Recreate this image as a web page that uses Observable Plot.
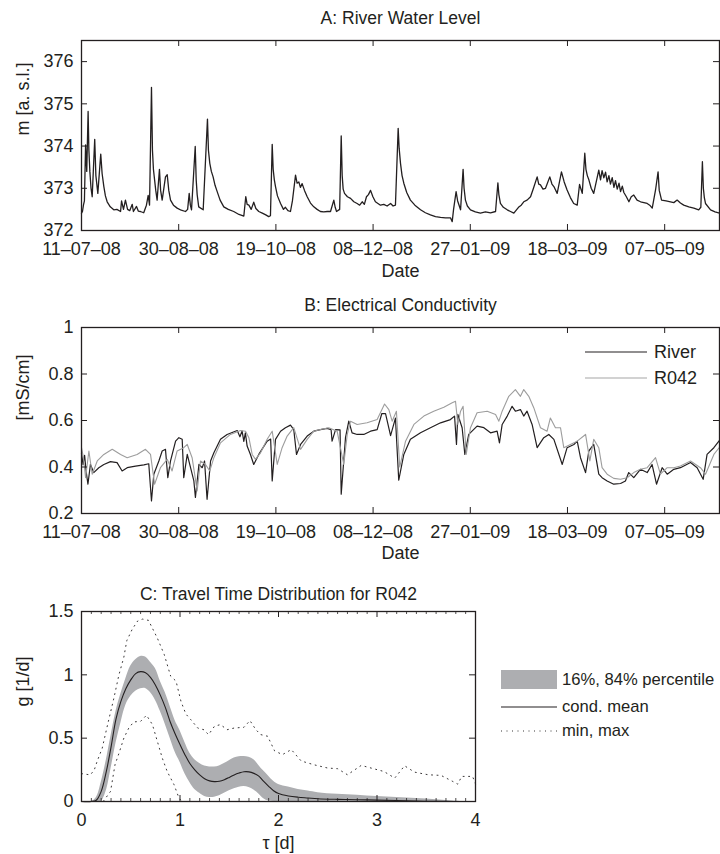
<!DOCTYPE html>
<html><head><meta charset="utf-8">
<script src="https://cdn.jsdelivr.net/npm/d3@7"></script>
<script src="https://cdn.jsdelivr.net/npm/@observablehq/plot@0.6"></script>
<style>
body{margin:0;background:#fff;}
#page{position:relative;width:720px;height:854px;font-family:"Liberation Sans",Arial,sans-serif;color:#231f20;}
#page svg{display:block;}
.lg{position:absolute;white-space:nowrap;line-height:1;transform:translateY(-50%);}
</style></head><body><div id="page"></div>
<script>
// ---------- data ----------
const startDateUTC = Date.UTC(2008, 6, 11);   // 11-07-08
const endDay = 328.2;                           // days after start at right edge
const dateTickDays = [0, 50, 100, 150, 200, 250, 300];
const levelTicks = [372, 373, 374, 375, 376];
const ecTicks = [0.2, 0.4, 0.6, 0.8, 1];
const gTicks = [0, 0.5, 1, 1.5];
const tauTicks = [0, 1, 2, 3, 4];

// [day after 11-07-08, m a.s.l.]
const riverLevel = [[0,372.41],[0.5,372.45],[1.0,372.6],[1.5,372.7],[2.1,374.03],[2.7,373.4],[3.4,374.82],[3.8,373.9],[4.3,373.4],[4.9,373.0],[5.5,372.8],[6.8,374.16],[7.4,373.3],[8.4,372.88],[9.9,373.81],[10.6,373.35],[11.5,373.04],[12.3,372.82],[13.2,372.68],[14.8,372.56],[16.6,372.49],[18.2,372.5],[20.1,372.45],[20.6,372.7],[21.6,372.5],[22.6,372.72],[23.7,372.5],[24.8,372.47],[26.1,372.62],[26.7,372.45],[28.3,372.57],[29.2,372.46],[30.3,372.45],[32.0,372.42],[33.4,372.6],[34.3,372.83],[35.0,372.6],[36.0,375.39],[36.5,373.9],[37.0,373.45],[37.6,373.2],[38.2,372.95],[38.9,372.72],[40.1,373.45],[40.7,372.95],[41.5,372.72],[43.2,373.27],[44.1,373.32],[44.9,372.95],[45.8,372.72],[47.3,372.6],[49.2,372.53],[51.3,372.48],[53.5,372.45],[54.6,372.5],[55.4,372.88],[56.0,372.6],[56.6,372.49],[58.5,373.99],[59.0,373.2],[59.5,372.85],[60.3,372.56],[62.6,372.49],[64.8,374.64],[65.3,373.9],[66.0,373.59],[66.8,373.4],[67.7,373.27],[68.7,373.07],[69.8,372.92],[71.3,372.72],[73.2,372.56],[75.5,372.5],[78.3,372.45],[81.0,372.38],[83.5,372.34],[84.5,372.8],[85.2,372.62],[86.1,372.6],[87.3,372.5],[88.6,372.67],[89.7,372.52],[91.2,372.45],[93.0,372.41],[94.8,372.37],[96.3,372.33],[97.2,372.35],[98.1,374.04],[98.6,373.45],[99.2,373.2],[99.8,373.04],[100.8,372.82],[102.4,372.64],[103.9,372.5],[104.9,372.55],[106.2,372.47],[107.5,372.45],[108.5,372.7],[110.1,373.31],[110.9,373.12],[111.8,373.15],[112.6,373.02],[113.5,373.11],[114.7,372.95],[116.1,372.8],[117.8,372.65],[119.5,372.56],[121.2,372.5],[122.9,372.45],[124.6,372.44],[126.4,372.45],[128.1,372.45],[129.8,372.72],[130.5,372.55],[131.2,372.45],[132.8,372.5],[133.6,374.24],[134.1,373.3],[134.6,372.98],[135.3,372.88],[136.8,372.8],[138.4,372.76],[140.1,372.68],[141.8,372.64],[143.1,372.6],[144.4,372.68],[145.5,372.62],[146.6,372.8],[147.6,372.85],[148.7,372.95],[149.9,372.8],[151.2,372.68],[152.5,372.64],[153.8,372.6],[155.5,372.62],[157.2,372.58],[159.0,372.64],[160.3,372.58],[161.5,372.6],[162.9,374.42],[163.4,373.95],[164.1,373.59],[164.9,373.3],[165.8,373.12],[167.3,372.9],[169.2,372.72],[171.5,372.6],[174.4,372.49],[176.9,372.42],[179.5,372.37],[182.1,372.33],[184.7,372.31],[187.2,372.3],[189.8,372.3],[190.7,372.21],[191.4,372.5],[192.7,372.92],[193.5,372.7],[195.0,372.49],[196.3,373.45],[196.8,373.0],[197.5,372.72],[198.5,372.58],[200.1,372.49],[202.6,372.44],[205.2,372.41],[207.8,372.44],[210.4,372.42],[213.0,372.45],[214.2,373.13],[214.7,372.85],[215.5,372.64],[217.0,372.55],[219.0,372.49],[220.7,372.45],[222.4,372.41],[224.8,372.55],[226.2,372.6],[227.5,372.68],[229.2,372.72],[231.0,372.8],[232.5,373.0],[234.4,373.27],[235.2,373.1],[236.1,373.08],[237.4,372.98],[238.7,373.0],[240.9,373.27],[242.0,373.1],[243.0,373.04],[244.7,372.88],[246.9,373.39],[248.3,373.15],[249.8,372.96],[251.5,372.78],[253.2,372.64],[255.0,372.6],[256.2,373.09],[257.6,372.88],[258.9,373.83],[259.5,373.45],[260.2,373.3],[261.0,373.2],[262.2,373.0],[263.5,372.88],[266.1,373.43],[267.0,373.2],[267.8,373.42],[268.7,373.25],[269.6,373.38],[270.4,373.15],[271.3,373.3],[272.1,373.1],[273.0,373.25],[273.9,373.02],[274.7,373.18],[275.6,372.98],[276.5,373.12],[277.3,372.92],[278.2,373.05],[279.0,372.9],[280.3,372.8],[281.6,372.68],[282.8,372.8],[284.1,372.84],[285.8,372.72],[287.6,372.68],[289.3,372.66],[291.0,372.64],[292.3,372.6],[293.6,372.53],[295.3,372.96],[296.6,373.39],[297.2,372.95],[298.4,372.72],[300.7,372.7],[303.0,372.68],[304.7,372.66],[306.4,372.72],[308.1,372.65],[309.8,372.6],[312.4,372.56],[315.0,372.53],[317.5,372.49],[318.6,372.55],[319.4,373.63],[319.9,373.0],[320.4,372.78],[321.0,372.64],[323.6,372.49],[325.9,372.44],[328.2,372.41]];

// [day, mS/cm]
const riverEC = [[0,0.46],[0.8,0.41],[1.6,0.45],[2.4,0.38],[3.3,0.326],[4.6,0.411],[6.3,0.376],[8.9,0.397],[11.5,0.411],[14.9,0.423],[18.3,0.419],[20.9,0.383],[23.5,0.397],[27.8,0.404],[32.1,0.409],[34.6,0.414],[36.0,0.254],[37.2,0.369],[39.8,0.426],[41.5,0.469],[43.2,0.476],[44.4,0.354],[45.8,0.426],[48.4,0.511],[50.1,0.526],[51.8,0.519],[52.6,0.354],[54.4,0.454],[56.1,0.397],[57.8,0.34],[58.6,0.269],[60.4,0.411],[62.1,0.397],[63.3,0.426],[64.6,0.261],[66.4,0.426],[68.1,0.461],[71.5,0.519],[74.9,0.54],[80.1,0.557],[81.5,0.53],[82.6,0.555],[83.5,0.51],[84.3,0.547],[85.2,0.49],[86.9,0.454],[88.6,0.411],[91.2,0.454],[95.5,0.511],[97.3,0.52],[98.1,0.34],[99.8,0.519],[102.4,0.554],[104.9,0.569],[107.5,0.58],[109.2,0.561],[110.6,0.454],[112.7,0.497],[116.1,0.533],[119.5,0.554],[122.9,0.561],[126.4,0.566],[128.4,0.56],[128.9,0.511],[130.7,0.561],[133.0,0.56],[133.6,0.283],[135.8,0.526],[137.5,0.597],[139.2,0.547],[141.8,0.54],[145.2,0.54],[148.7,0.554],[152.1,0.561],[154.5,0.63],[156.4,0.63],[159.0,0.535],[161.5,0.61],[163.2,0.343],[165.8,0.454],[169.2,0.519],[174.4,0.547],[179.5,0.569],[184.7,0.59],[189.8,0.604],[191.9,0.619],[192.9,0.497],[193.6,0.626],[195.8,0.569],[197.2,0.454],[199.2,0.54],[203.5,0.576],[207.0,0.569],[210.4,0.547],[213.8,0.554],[215.0,0.504],[216.4,0.583],[219.0,0.619],[221.5,0.661],[223.2,0.64],[225.8,0.647],[227.5,0.619],[229.2,0.64],[231.8,0.583],[234.4,0.483],[237.8,0.526],[240.4,0.54],[243.0,0.519],[247.3,0.411],[249.8,0.483],[253.3,0.497],[255.0,0.511],[256.7,0.44],[259.3,0.376],[261.0,0.469],[263.5,0.497],[266.1,0.369],[267.8,0.354],[270.4,0.34],[273.8,0.326],[277.3,0.329],[279.8,0.34],[281.5,0.376],[284.1,0.354],[287.5,0.39],[291.0,0.376],[293.5,0.411],[295.8,0.326],[298.7,0.397],[301.3,0.369],[304.7,0.39],[308.1,0.397],[313.3,0.419],[316.7,0.397],[319.8,0.347],[321.8,0.454],[325.3,0.483],[328.2,0.515]];

const r042EC = [[0,0.483],[1.0,0.44],[2.1,0.354],[3.8,0.469],[5.5,0.369],[8.1,0.426],[11.5,0.454],[15.8,0.476],[20.1,0.454],[23.5,0.44],[28.6,0.454],[32.9,0.476],[35.5,0.454],[37.6,0.326],[40.6,0.397],[44.1,0.433],[46.6,0.383],[49.2,0.469],[52.6,0.483],[54.4,0.497],[56.9,0.44],[59.5,0.297],[61.2,0.426],[63.8,0.411],[66.0,0.383],[68.1,0.44],[71.5,0.504],[76.6,0.54],[81.8,0.557],[84.4,0.554],[86.1,0.526],[87.8,0.454],[89.5,0.433],[92.1,0.461],[95.5,0.519],[98.1,0.554],[100.7,0.411],[103.2,0.483],[105.8,0.533],[109.2,0.569],[112.7,0.476],[116.1,0.519],[119.5,0.554],[122.9,0.561],[127.2,0.569],[131.5,0.554],[134.9,0.411],[136.7,0.54],[138.4,0.597],[141.8,0.583],[146.9,0.59],[152.1,0.604],[155.9,0.671],[158.1,0.647],[159.8,0.597],[162.0,0.64],[163.7,0.40],[166.7,0.511],[171.0,0.583],[176.1,0.619],[181.2,0.64],[186.4,0.657],[190.7,0.676],[192.4,0.683],[193.6,0.583],[195.0,0.64],[196.3,0.661],[197.9,0.454],[200.1,0.569],[203.5,0.633],[208.7,0.64],[213.0,0.626],[214.7,0.597],[216.4,0.64],[219.8,0.704],[223.2,0.733],[225.8,0.704],[227.5,0.733],[230.1,0.704],[232.7,0.654],[236.1,0.569],[239.5,0.554],[241.2,0.611],[243.8,0.569],[246.4,0.569],[248.1,0.483],[251.5,0.497],[255.0,0.511],[259.3,0.54],[261.5,0.426],[263.5,0.519],[266.1,0.483],[267.8,0.397],[270.4,0.369],[273.8,0.351],[277.3,0.347],[280.7,0.354],[284.1,0.376],[287.5,0.39],[291.0,0.397],[295.3,0.44],[297.8,0.369],[301.3,0.397],[304.7,0.397],[308.1,0.404],[313.3,0.426],[318.4,0.397],[321.0,0.369],[325.3,0.454],[328.2,0.485]];

// travel time distribution (tau in days, g in 1/d)
const tau  = [0,0.1,0.15,0.2,0.25,0.3,0.35,0.4,0.45,0.5,0.55,0.6,0.65,0.7,0.75,0.8,0.85,0.9,0.95,1.0,1.05,1.1,1.15,1.2,1.25,1.3,1.35,1.4,1.45,1.5,1.55,1.6,1.65,1.7,1.75,1.8,1.85,1.9,1.95,2.0,2.1,2.2,2.3,2.4,2.6,2.8,3.0,3.2,3.4,3.6,3.8,4.0];
const gMean= [0,0,0.01,0.08,0.23,0.43,0.65,0.79,0.89,0.96,1.01,1.025,1.016,0.98,0.92,0.84,0.745,0.63,0.535,0.45,0.37,0.30,0.25,0.21,0.18,0.163,0.157,0.16,0.172,0.19,0.21,0.225,0.235,0.234,0.222,0.20,0.158,0.12,0.085,0.063,0.044,0.034,0.028,0.022,0.017,0.014,0.011,0.008,0.004,0.001,0,0];
const g16  = [0,0,0,0,0.08,0.26,0.46,0.62,0.76,0.83,0.87,0.89,0.893,0.86,0.80,0.712,0.61,0.50,0.39,0.31,0.22,0.15,0.095,0.065,0.04,0.032,0.034,0.045,0.065,0.085,0.10,0.113,0.119,0.11,0.09,0.06,0.021,0.003,0,0,0,0,0,0,0,0,0,0,0,0,0,0];
const g84  = [0,0,0.03,0.15,0.32,0.52,0.71,0.85,0.97,1.07,1.12,1.145,1.14,1.1,1.05,0.95,0.86,0.75,0.64,0.56,0.465,0.38,0.33,0.30,0.28,0.273,0.272,0.28,0.30,0.322,0.343,0.353,0.355,0.35,0.33,0.285,0.24,0.20,0.16,0.135,0.115,0.095,0.083,0.07,0.057,0.05,0.04,0.032,0.024,0.014,0.002,0];
const gMax = [[0,0.22],[0.09,0.21],[0.13,0.25],[0.16,0.32],[0.21,0.42],[0.26,0.59],[0.33,0.82],[0.38,1.0],[0.43,1.14],[0.46,1.27],[0.515,1.36],[0.57,1.425],[0.62,1.44],[0.68,1.43],[0.77,1.29],[0.84,1.16],[0.905,0.99],[0.96,0.95],[1.01,0.79],[1.06,0.69],[1.11,0.646],[1.18,0.58],[1.24,0.567],[1.29,0.528],[1.35,0.594],[1.41,0.607],[1.48,0.567],[1.55,0.58],[1.65,0.586],[1.71,0.639],[1.77,0.567],[1.82,0.528],[1.89,0.515],[1.96,0.40],[2.04,0.37],[2.13,0.41],[2.23,0.32],[2.36,0.29],[2.5,0.264],[2.6,0.259],[2.7,0.211],[2.84,0.285],[2.94,0.264],[3.07,0.237],[3.18,0.185],[3.28,0.282],[3.38,0.232],[3.52,0.211],[3.65,0.206],[3.77,0.158],[3.82,0.137],[3.86,0.198],[3.97,0.198],[4.0,0.14]];
const gMin = [[0,0],[0.22,0],[0.295,0.08],[0.34,0.29],[0.38,0.38],[0.43,0.50],[0.48,0.58],[0.53,0.628],[0.6,0.633],[0.66,0.681],[0.72,0.607],[0.77,0.475],[0.82,0.343],[0.87,0.237],[0.94,0.132],[0.99,0.026],[1.02,0],[4,0]];

// ---------- drawing ----------
const ink = "#231f20";
const bandGray = "#adaeb1";
const r042Gray = "#9d9d9d";
const font = "'Liberation Sans', Arial, sans-serif";
const toDate = d => new Date(startDateUTC + d * 864e5);
const fmtDate = d3.utcFormat("%d–%m–%y");
const dateTicks = dateTickDays.map(toDate);
const xDomain = [toDate(0), toDate(endDay)];
const asRows = arr => arr.map(([d, v]) => ({date: toDate(d), v}));
const baseStyle = {fontFamily: font, fontSize: "18px", color: ink, background: "transparent", overflow: "visible"};

function inwardTicks(xt, yt, fw, fh, len) {
  return [
    Plot.tickX(xt, {x: d => d, stroke: ink, strokeWidth: 1, insetTop: fh - len}),
    Plot.tickX(xt, {x: d => d, stroke: ink, strokeWidth: 1, insetBottom: fh - len}),
    Plot.tickY(yt, {y: d => d, stroke: ink, strokeWidth: 1, insetRight: fw - len}),
    Plot.tickY(yt, {y: d => d, stroke: ink, strokeWidth: 1, insetLeft: fw - len})
  ];
}
function labels(title, xlab, ylab, titleDy, xDy) {
  return [
    Plot.text([title], {text: d => d, frameAnchor: "top", dy: titleDy, lineAnchor: "middle", fontSize: 17.5, fill: ink}),
    Plot.text([xlab], {text: d => d, frameAnchor: "bottom", dy: xDy, lineAnchor: "middle", fontSize: 18, fill: ink}),
    Plot.text([ylab], {text: d => d, frameAnchor: "left", dx: -58, rotate: -90, lineAnchor: "middle", fontSize: 18, fill: ink})
  ];
}

const page = document.getElementById("page");

// Panel A
const A = Plot.plot({
  width: 720, height: 290, marginTop: 40, marginBottom: 60, marginLeft: 81, marginRight: 1,
  style: baseStyle,
  x: {type: "utc", domain: xDomain},
  y: {domain: [372, 376.5]},
  marks: [
    Plot.line(asRows(riverLevel), {x: "date", y: "v", stroke: ink, strokeWidth: 1.3}),
    Plot.frame({stroke: ink, strokeWidth: 1.3}),
    ...inwardTicks(dateTicks.slice(1), levelTicks.slice(1), 638, 190, 6),
    Plot.axisX({ticks: dateTicks, tickFormat: fmtDate, tickSize: 0, tickPadding: 12, label: null, fill: ink}),
    Plot.axisY({ticks: levelTicks, tickFormat: d => String(d), tickSize: 0, tickPadding: 8, label: null, fill: ink}),
    ...labels("A: River Water Level", "Date", "m [a. s.l.]", -22, 41)
  ]
});
page.appendChild(A);

// Panel B
const B = Plot.plot({
  width: 720, height: 290, marginTop: 37, marginBottom: 67, marginLeft: 81, marginRight: 1,
  style: baseStyle,
  x: {type: "utc", domain: xDomain},
  y: {domain: [0.2, 1]},
  marks: [
    Plot.line(asRows(riverEC), {x: "date", y: "v", stroke: ink, strokeWidth: 1.2}),
    Plot.line(asRows(r042EC), {x: "date", y: "v", stroke: r042Gray, strokeWidth: 1.1}),
    Plot.frame({stroke: ink, strokeWidth: 1.3}),
    ...inwardTicks(dateTicks.slice(1), ecTicks.slice(1, -1), 638, 186, 6),
    Plot.axisX({ticks: dateTicks, tickFormat: fmtDate, tickSize: 0, tickPadding: 12, label: null, fill: ink}),
    Plot.axisY({ticks: ecTicks, tickFormat: d => String(d), tickSize: 0, tickPadding: 8, label: null, fill: ink}),
    ...labels("B: Electrical Conductivity", "Date", "[mS/cm]", -22, 40)
  ]
});
page.appendChild(B);

// Panel C
const band = tau.map((t, i) => ({t, lo: g16[i], hi: g84[i], m: gMean[i]}));
const minorTau = d3.range(1, 40).map(i => i / 10).filter(t => Math.abs(t - Math.round(t)) > 1e-6);
const C = Plot.plot({
  width: 720, height: 274, marginTop: 31, marginBottom: 53, marginLeft: 81, marginRight: 245,
  style: baseStyle,
  x: {domain: [0, 4]},
  y: {domain: [0, 1.5]},
  marks: [
    Plot.areaY(band, {x: "t", y1: "lo", y2: "hi", fill: bandGray, curve: "catmull-rom"}),
    Plot.line(band, {x: "t", y: "m", stroke: ink, strokeWidth: 1.1, curve: "catmull-rom"}),
    Plot.line(gMax, {x: d => d[0], y: d => d[1], stroke: ink, strokeWidth: 0.9, strokeDasharray: "1,4.5"}),
    Plot.line(gMin, {x: d => d[0], y: d => d[1], stroke: ink, strokeWidth: 0.9, strokeDasharray: "1,4.5"}),
    Plot.frame({stroke: ink, strokeWidth: 1.3}),
    Plot.tickX(minorTau, {x: d => d, stroke: ink, strokeWidth: 0.8, insetTop: 190 - 3}),
    Plot.tickX(minorTau, {x: d => d, stroke: ink, strokeWidth: 0.8, insetBottom: 190 - 3}),
    ...inwardTicks(tauTicks.slice(1, -1), gTicks.slice(1, -1), 394, 190, 6),
    Plot.axisX({ticks: tauTicks, tickFormat: d => String(d), tickSize: 0, tickPadding: 12, label: null, fill: ink}),
    Plot.axisY({ticks: gTicks, tickFormat: d => String(d), tickSize: 0, tickPadding: 8, label: null, fill: ink}),
    ...labels("C: Travel Time Distribution for R042", "τ [d]", "g [1/d]", -17, 42)
  ]
});
page.appendChild(C);

// Legends
function addLine(x, y, w, color, dashed) {
  const s = document.createElementNS("http://www.w3.org/2000/svg", "svg");
  s.setAttribute("width", w); s.setAttribute("height", 6);
  s.style.cssText = `position:absolute;left:${x}px;top:${y - 3}px;overflow:visible`;
  const l = document.createElementNS("http://www.w3.org/2000/svg", "line");
  l.setAttribute("x1", 0); l.setAttribute("x2", w); l.setAttribute("y1", 3); l.setAttribute("y2", 3);
  l.setAttribute("stroke", color); l.setAttribute("stroke-width", dashed ? 0.9 : 1.2);
  if (dashed) l.setAttribute("stroke-dasharray", "1,4.5");
  s.appendChild(l); page.appendChild(s);
}
function addText(x, y, t, size) {
  const d = document.createElement("div");
  d.className = "lg"; d.textContent = t;
  d.style.left = x + "px"; d.style.top = y + "px"; d.style.fontSize = size + "px";
  page.appendChild(d);
}
const legendB = [{name: "River", color: ink}, {name: "R042", color: "#a6a6a6"}];
legendB.forEach((s, i) => { addLine(585, 352 + i * 25.5, 62, s.color, false); addText(654, 352 + i * 25.5, s.name, 18); });

const rect = document.createElement("div");
rect.style.cssText = `position:absolute;left:501px;top:670px;width:56px;height:19px;background:${bandGray}`;
page.appendChild(rect);
const legendC = ["16%, 84% percentile", "cond. mean", "min, max"];
addText(562, 680, legendC[0], 16.6);
addLine(501, 707, 56, ink, false);
addText(562, 707, legendC[1], 16.6);
addLine(501, 731, 56, ink, true);
addText(562, 731, legendC[2], 16.6);
</script></body></html>
